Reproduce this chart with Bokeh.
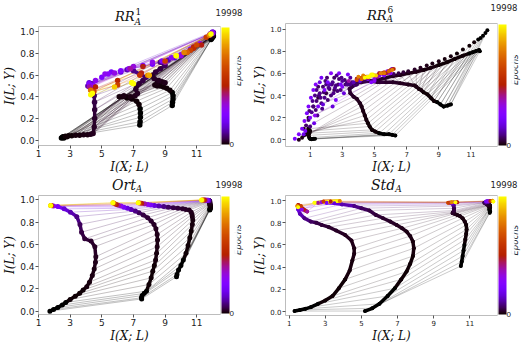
import math
from bokeh.plotting import figure
from bokeh.models import (ColumnDataSource, LinearColorMapper, ColorBar, Div, LinearAxis,
                          FixedTicker, Range1d, PrintfTickFormatter)
from bokeh.layouts import row, column
from bokeh.embed import file_html
from bokeh.resources import INLINE

EPOCH_MAX = 19998
CBAR_TOP = "19998"
CBAR_LABEL = "Epochs"
X_TICKS = [1, 3, 5, 7, 9, 11]
Y_TICKS = [0.0, 0.2, 0.4, 0.6, 0.8, 1.0]
X_LABEL = "I(X; L)"
Y_LABEL = "I(L; Y)"

# epochs at which every layer was sampled (same for every panel)
EPOCHS = [0, 5, 10, 20, 30, 45, 60, 80, 100, 130, 160, 200, 250, 310, 380,
          460, 560, 700, 900, 1200, 1700, 2400, 3300, 4500, 6000, 7800, 9800,
          12500, 16000, 19998]

# ---------------- panel RR_A^1 ----------------
RR1_L1_X = [11.9, 11.95, 12.0, 12.05, 12.05, 12.0, 11.95, 11.9, 11.95, 12.0, 12.02, 12.0, 11.98, 12.0, 12.02,
            12.0, 12.03, 12.05, 12.02, 12.0, 12.05, 11.95, 12.0, 11.9, 12.0, 11.85, 11.3, 11.6, 11.8, 11.9]
RR1_L1_Y = [0.93, 0.94, 0.95, 0.96, 0.97, 0.96, 0.955, 0.95, 0.96, 0.965, 0.97, 0.97, 0.975, 0.98, 0.98,
            0.985, 0.985, 0.99, 0.99, 0.99, 0.995, 0.99, 1.0, 0.985, 0.99, 0.98, 0.88, 0.95, 0.97, 0.98]
RR1_L2_X = [9.45, 9.47, 9.5, 9.5, 9.45, 9.3, 9.1, 8.9, 8.7, 8.5, 8.35, 8.5, 8.8, 9.0, 8.6,
            8.3, 8.2, 8.4, 8.7, 9.0, 8.7, 9.2, 9.6, 8.2, 10.0, 9.0, 10.8, 10.6, 10.2, 9.7]
RR1_L2_Y = [0.32, 0.35, 0.38, 0.41, 0.44, 0.46, 0.48, 0.49, 0.5, 0.5, 0.51, 0.53, 0.54, 0.53, 0.55,
            0.57, 0.6, 0.63, 0.66, 0.69, 0.72, 0.74, 0.76, 0.7, 0.78, 0.72, 0.86, 0.83, 0.81, 0.78]
RR1_L3_X = [7.4, 7.42, 7.44, 7.44, 7.42, 7.35, 7.2, 6.9, 6.6, 6.3, 6.1, 6.4, 6.8, 7.1, 7.25,
            7.15, 7.2, 7.35, 7.6, 7.8, 7.0, 6.6, 6.2, 5.6, 5.2, 6.8, 7.5, 6.0, 7.9, 6.9]
RR1_L3_Y = [0.14, 0.17, 0.21, 0.25, 0.29, 0.33, 0.36, 0.38, 0.39, 0.4, 0.4, 0.41, 0.4, 0.41, 0.43,
            0.47, 0.5, 0.52, 0.55, 0.58, 0.64, 0.65, 0.63, 0.63, 0.61, 0.66, 0.62, 0.51, 0.6, 0.53]
RR1_L4_X = [2.45, 2.5, 2.55, 2.6, 2.65, 2.7, 2.8, 2.9, 3.1, 3.35, 3.6, 3.85, 4.1, 4.3, 4.45,
            4.52, 4.55, 4.55, 4.54, 4.52, 4.35, 4.12, 4.2, 4.42, 4.5, 4.22, 4.32, 4.5, 4.4, 4.3]
RR1_L4_Y = [0.02, 0.025, 0.03, 0.02, 0.03, 0.035, 0.03, 0.04, 0.04, 0.045, 0.045, 0.05, 0.05, 0.055, 0.06,
            0.12, 0.2, 0.28, 0.35, 0.41, 0.52, 0.5, 0.53, 0.51, 0.5, 0.49, 0.46, 0.45, 0.44, 0.42]
# further late-epoch observations along the upper band
RR1_LATE_X = [4.2, 4.6, 5.0, 5.4, 5.8, 6.2, 6.7, 7.0, 7.6, 8.2, 8.8, 9.4, 10.0, 10.6, 11.2, 11.8, 12.0,
              6.0, 7.4, 7.6, 9.0, 10.4, 10.8, 11.0, 4.6, 4.3,
              4.4, 5.8, 6.9, 8.0, 9.7, 7.0]
RR1_LATE_Y = [0.52, 0.55, 0.58, 0.61, 0.62, 0.64, 0.66, 0.68, 0.69, 0.72, 0.73, 0.76, 0.79, 0.84, 0.89, 0.97, 0.99,
              0.55, 0.6, 0.68, 0.73, 0.81, 0.85, 0.88, 0.49, 0.46,
              0.43, 0.49, 0.53, 0.6, 0.78, 0.52]
RR1_LATE_E = [5200, 6100, 4800, 5600, 6400, 5000, 5900, 6700, 5300, 6200, 4900, 5700, 6500, 5100, 6000, 5400, 6300,
              10500, 11500, 9800, 12500, 14500, 11000, 13000, 10200, 15500,
              19998, 18500, 19500, 17500, 19000, 19998]

# ---------------- panel RR_A^6 ----------------
RR6_L1_X = [12.02, 11.9, 11.75, 11.6, 11.45, 11.2, 10.9, 10.5, 10.13, 9.75, 9.37, 9.0, 8.6, 8.25, 7.86,
            7.5, 7.1, 6.8, 6.5, 6.2, 5.9, 5.5, 6.1, 5.3, 5.0, 5.8, 4.6, 4.2, 5.4, 4.7]
RR6_L1_Y = [0.99, 0.965, 0.94, 0.92, 0.905, 0.88, 0.85, 0.815, 0.78, 0.755, 0.73, 0.71, 0.69, 0.67, 0.65,
            0.635, 0.62, 0.61, 0.6, 0.595, 0.62, 0.6, 0.64, 0.58, 0.57, 0.6, 0.56, 0.55, 0.6, 0.57]
RR6_L2_X = [11.55, 11.5, 11.3, 11.1, 10.9, 10.5, 10.0, 9.5, 9.0, 8.5, 8.05, 7.6, 7.1, 6.6, 6.15,
            5.7, 5.2, 4.7, 4.2, 3.8, 3.5, 4.0, 4.6, 5.3, 5.8, 6.1, 6.0, 5.6, 4.5, 4.9]
RR6_L2_Y = [0.8, 0.81, 0.8, 0.79, 0.78, 0.76, 0.73, 0.7, 0.675, 0.65, 0.63, 0.615, 0.6, 0.585, 0.575,
            0.56, 0.54, 0.53, 0.52, 0.51, 0.5, 0.55, 0.57, 0.6, 0.62, 0.64, 0.63, 0.61, 0.57, 0.58]
RR6_L3_X = [9.75, 9.55, 9.3, 9.1, 8.9, 8.7, 8.5, 8.3, 8.05, 7.9, 7.76, 7.6, 7.5, 7.1, 6.6,
            6.15, 5.7, 5.2, 4.7, 4.2, 3.9, 4.4, 5.0, 5.6, 6.0, 5.2, 5.9, 5.5, 4.3, 4.8]
RR6_L3_Y = [0.32, 0.31, 0.3, 0.32, 0.34, 0.35, 0.38, 0.41, 0.43, 0.45, 0.46, 0.48, 0.49, 0.5, 0.51,
            0.52, 0.52, 0.52, 0.53, 0.54, 0.55, 0.56, 0.55, 0.58, 0.6, 0.57, 0.62, 0.6, 0.58, 0.59]
RR6_L4_X = [6.3, 6.1, 5.9, 5.6, 5.3, 5.05, 4.85, 4.7, 4.6, 4.5, 4.4, 4.3, 4.2, 4.1, 3.9,
            3.7, 3.5, 3.45, 3.6, 3.9, 3.3, 3.7, 4.1, 4.6, 5.0, 4.3, 5.7, 4.4, 5.0, 4.6]
RR6_L4_Y = [0.04, 0.045, 0.05, 0.05, 0.06, 0.075, 0.09, 0.12, 0.15, 0.18, 0.22, 0.26, 0.3, 0.33, 0.37,
            0.39, 0.42, 0.46, 0.48, 0.5, 0.5, 0.52, 0.53, 0.55, 0.54, 0.56, 0.6, 0.57, 0.58, 0.57]
RR6_L5_X = [1.3, 1.2, 1.1, 1.0, 0.95, 0.9, 0.95, 1.0, 0.9, 0.8, 0.75, 0.6, 0.5, 0.3, 0.6,
            0.9, 1.2, 1.5, 2.0, 2.5, 1.4, 2.2, 1.8, 2.9, 1.3, 3.4, 3.9, 4.2, 4.0, 4.4]
RR6_L5_Y = [0.01, 0.01, 0.005, 0.01, 0.02, 0.04, 0.06, 0.08, 0.1, 0.07, 0.05, 0.04, 0.02, 0.0, 0.1,
            0.2, 0.3, 0.38, 0.42, 0.45, 0.45, 0.5, 0.32, 0.5, 0.22, 0.53, 0.55, 0.56, 0.57, 0.56]
RR6_CLOUD_X = [0.05, 0.3, 0.5, 0.65, 0.8, 0.9, 1.05, 1.2, 1.35, 1.7, 2.3, 2.8, 3.35, 1.9, 2.6, 0.7, 1.0, 1.5, 2.1, 3.0,
               1.2, 1.4, 1.6, 1.8, 2.0, 2.2, 2.4, 2.6, 2.8, 3.0, 3.2, 1.3, 1.5, 1.9, 2.3, 2.7, 1.1, 0.9, 1.7, 2.5,
               3.5, 1.0, 2.05, 1.45, 0.75, 1.6, 2.4, 1.25, 3.1, 0.6,
               1.35, 1.65, 1.85, 2.15, 2.35, 2.55, 2.75, 2.95, 3.15, 1.55, 1.75, 2.1, 2.9, 3.3, 1.15, 0.95, 2.45,
               1.95, 2.65, 3.6]
RR6_CLOUD_Y = [0.01, 0.05, 0.1, 0.17, 0.24, 0.3, 0.38, 0.45, 0.5, 0.56, 0.6, 0.6, 0.59, 0.45, 0.36, 0.08, 0.2, 0.3, 0.52, 0.48,
               0.3, 0.35, 0.42, 0.48, 0.5, 0.46, 0.52, 0.49, 0.55, 0.53, 0.5, 0.4, 0.48, 0.38, 0.4, 0.44, 0.25, 0.18, 0.33, 0.56,
               0.56, 0.12, 0.56, 0.22, 0.13, 0.52, 0.3, 0.15, 0.42, 0.05,
               0.27, 0.38, 0.43, 0.47, 0.5, 0.47, 0.5, 0.56, 0.54, 0.4, 0.28, 0.36, 0.45, 0.52, 0.35, 0.26, 0.42,
               0.53, 0.58, 0.52]
RR6_CLOUD_E = [4800, 5100, 4600, 5300, 4900, 5000, 4700, 5200, 5400, 4500, 5600, 5100, 4800, 5300, 4700, 5000, 4900, 5200, 4600, 5500,
               1600, 1500, 1800, 1400, 1700, 1300, 1900, 1600, 1500, 2000, 1400, 1700, 1300, 1800, 1600, 1500, 1900, 1400, 1700, 1300,
               2000, 1600, 1500, 1800, 1400, 3500, 3300, 3700, 3400, 3600,
               1500, 1700, 1400, 1800, 1600, 1900, 1500, 1700, 1400, 1600, 1800, 1500, 1700, 1600, 1900, 1400, 1800,
               1500, 1700, 1600]
RR6_LATE_X = [4.6, 4.9, 5.1, 5.6, 5.9, 6.1, 4.2, 3.9, 5.3, 6.2, 4.8, 5.0]
RR6_LATE_Y = [0.57, 0.59, 0.58, 0.6, 0.62, 0.63, 0.55, 0.54, 0.6, 0.64, 0.52, 0.53]
RR6_LATE_E = [19998, 19500, 18800, 15500, 14500, 16000, 15000, 13500, 11000, 10500, 5200, 5600]

# ---------------- panel Ort_A ----------------
ORT_A_X = [1.72, 1.95, 2.22, 2.5, 2.72, 3.0, 3.32, 3.6, 3.82, 4.05, 4.22, 4.4, 4.52, 4.6, 4.62,
           4.56, 4.32, 3.92, 3.72, 3.62, 3.42, 3.02, 2.62, 2.22, 1.95, 1.85, 1.8, 1.78, 1.78, 1.76]
ORT_A_Y = [0.0, 0.015, 0.034, 0.055, 0.078, 0.105, 0.135, 0.16, 0.19, 0.22, 0.26, 0.32, 0.38, 0.44, 0.49,
           0.58, 0.63, 0.65, 0.71, 0.78, 0.85, 0.89, 0.92, 0.94, 0.945, 0.948, 0.95, 0.95, 0.95, 0.95]
ORT_B_X = [7.52, 7.5, 7.55, 7.68, 7.82, 7.98, 8.12, 8.22, 8.32, 8.4, 8.46, 8.5, 8.52, 8.5, 8.42,
           8.3, 8.12, 7.9, 7.62, 7.35, 7.12, 6.85, 6.62, 6.4, 6.22, 6.05, 5.92, 5.8, 5.72, 5.7]
ORT_B_Y = [0.11, 0.12, 0.14, 0.16, 0.18, 0.24, 0.3, 0.36, 0.41, 0.46, 0.52, 0.58, 0.64, 0.69, 0.74,
           0.78, 0.81, 0.84, 0.865, 0.885, 0.9, 0.915, 0.925, 0.935, 0.945, 0.952, 0.96, 0.968, 0.975, 0.975]
ORT_C_X = [9.72, 9.75, 9.85, 10.0, 10.15, 10.32, 10.45, 10.56, 10.65, 10.72, 10.75, 10.72, 10.7, 10.65, 10.52,
           10.3, 10.12, 9.8, 9.52, 9.2, 8.92, 8.6, 8.32, 8.1, 7.92, 7.7, 7.52, 7.4, 7.32, 7.3]
ORT_C_Y = [0.31, 0.33, 0.37, 0.41, 0.46, 0.52, 0.59, 0.66, 0.72, 0.78, 0.82, 0.85, 0.87, 0.89, 0.91,
           0.915, 0.92, 0.925, 0.93, 0.935, 0.94, 0.945, 0.95, 0.955, 0.96, 0.965, 0.97, 0.973, 0.975, 0.975]
ORT_D_X = [11.82, 11.83, 11.84, 11.85, 11.86, 11.86, 11.86, 11.85, 11.85, 11.84, 11.84, 11.83, 11.83, 11.82, 11.82,
           11.82, 11.82, 11.8, 11.8, 11.78, 11.76, 11.74, 11.72, 11.68, 11.62, 11.55, 11.48, 11.4, 11.34, 11.3]
ORT_D_Y = [0.91, 0.915, 0.92, 0.925, 0.93, 0.935, 0.94, 0.945, 0.95, 0.955, 0.96, 0.965, 0.97, 0.975, 0.98,
           0.985, 0.99, 0.99, 0.992, 0.994, 0.995, 0.996, 0.997, 0.998, 0.998, 0.999, 1.0, 1.0, 1.0, 1.0]

# ---------------- panel Std_A ----------------
STD_A_X = [1.3, 1.6, 1.9, 2.2, 2.6, 3.0, 3.4, 3.75, 4.1, 4.35, 4.5, 4.6, 4.6, 4.45, 4.1,
           3.6, 3.2, 2.8, 2.5, 2.2, 1.85, 1.6, 1.5, 1.55, 1.7, 2.0, 1.5, 1.65, 1.45, 1.5]
STD_A_Y = [0.005, 0.015, 0.025, 0.04, 0.07, 0.1, 0.14, 0.21, 0.29, 0.37, 0.46, 0.52, 0.57, 0.64, 0.69,
           0.73, 0.76, 0.78, 0.8, 0.81, 0.84, 0.88, 0.92, 0.94, 0.92, 0.9, 0.96, 0.95, 0.95, 0.94]
STD_B_X = [5.2, 5.6, 6.0, 6.45, 6.85, 7.2, 7.5, 7.7, 7.85, 7.9, 7.85, 7.7, 7.5, 7.25, 6.95,
           6.6, 6.2, 5.8, 5.44, 5.0, 4.6, 3.92, 3.5, 3.07, 2.8, 2.6, 3.3, 2.9, 3.8, 2.4]
STD_B_Y = [0.005, 0.03, 0.07, 0.14, 0.21, 0.29, 0.36, 0.43, 0.5, 0.57, 0.63, 0.68, 0.72, 0.75, 0.78,
           0.81, 0.84, 0.87, 0.91, 0.93, 0.95, 0.965, 0.975, 0.98, 0.985, 0.98, 0.99, 0.99, 0.995, 0.98]
STD_C_X = [10.5, 10.55, 10.6, 10.65, 10.7, 10.75, 10.8, 10.82, 10.8, 10.72, 10.6, 10.45, 10.3, 10.15, 10.05,
           10.05, 10.1, 10.12, 10.12, 10.1, 10.1, 10.05, 10.1, 10.0, 10.2, 9.9, 10.3, 9.8, 10.0, 10.2]
STD_C_Y = [0.41, 0.45, 0.5, 0.55, 0.6, 0.65, 0.7, 0.74, 0.78, 0.81, 0.84, 0.86, 0.87, 0.88, 0.885,
           0.89, 0.9, 0.91, 0.93, 0.95, 0.96, 0.97, 0.98, 0.98, 0.985, 0.98, 0.985, 0.98, 0.985, 0.985]
STD_D_X = [12.1, 12.12, 12.1, 12.08, 12.1, 12.12, 12.1, 12.08, 12.1, 12.12, 12.1, 12.08, 12.1, 12.05, 12.0,
           11.95, 11.9, 11.85, 11.8, 11.85, 11.9, 11.95, 12.0, 11.9, 12.05, 12.1, 12.15, 12.2, 12.25, 12.3]
STD_D_Y = [0.89, 0.9, 0.91, 0.92, 0.93, 0.935, 0.94, 0.94, 0.945, 0.95, 0.95, 0.955, 0.96, 0.96, 0.96,
           0.965, 0.97, 0.975, 0.98, 0.98, 0.985, 0.99, 0.99, 0.99, 0.99, 0.995, 0.995, 0.995, 0.998, 0.99]


def gnuplot_palette(n=256):
    pal = []
    for i in range(n):
        t = i / (n - 1)
        r = math.sqrt(t)
        g = t ** 3
        b = min(1.0, max(0.0, math.sin(2 * math.pi * t)))
        pal.append("#%02x%02x%02x" % (int(round(r * 255)), int(round(g * 255)), int(round(b * 255))))
    return pal


PAL = gnuplot_palette()


def ecolor(e):
    return PAL[max(0, min(255, int(round(e / EPOCH_MAX * 255))))]


def make_panel(cfg):
    xr, yr = cfg["xr"], cfg["yr"]
    p = figure(width=cfg["w"], height=cfg["h"], x_range=Range1d(*xr), y_range=Range1d(*yr),
               output_backend="svg", toolbar_location=None,
               min_border_left=cfg["bl"], min_border_right=cfg["br"],
               min_border_top=0, min_border_bottom=cfg["bb"])
    p.background_fill_color = "white"
    p.border_fill_color = "white"
    p.outline_line_color = "#bdbdbd"
    p.grid.visible = False
    for ax in (p.xaxis[0], p.yaxis[0]):
        ax.axis_line_color = None
        ax.major_tick_line_color = "#555555"
        ax.major_tick_out = 3
        ax.major_tick_in = 0
        ax.minor_tick_line_color = None
        ax.major_label_text_font = "DejaVu Sans"
        ax.major_label_text_font_size = cfg["tick_fs"]
        ax.major_label_text_color = "#222222"
        ax.major_label_standoff = 1
        ax.axis_label_text_font = "DejaVu Serif"
        ax.axis_label_text_font_style = "italic"
        ax.axis_label_text_font_size = cfg["lab_fs"]
        ax.axis_label_text_color = "#111111"
        ax.axis_label_standoff = 0
    p.xaxis.ticker = FixedTicker(ticks=X_TICKS)
    p.yaxis.ticker = FixedTicker(ticks=Y_TICKS)
    p.yaxis.formatter = PrintfTickFormatter(format="%.1f")
    p.xaxis.axis_label = X_LABEL
    p.yaxis.axis_label = Y_LABEL

    layers = cfg["layers"]
    epochs = EPOCHS
    seq = [layers[i] for i in cfg["order"]]
    if cfg["closed"]:
        seq = seq + [seq[0]]
    lx, ly, lc = [], [], []
    for k, e in enumerate(epochs):
        for a, b in zip(seq[:-1], seq[1:]):
            lx.append([a[0][k], b[0][k]])
            ly.append([a[1][k], b[1][k]])
            lc.append(ecolor(e))
    p.multi_line("xs", "ys", line_color="c", line_alpha=cfg["link_alpha"], line_width=0.7,
                 source=ColumnDataSource(dict(xs=lx, ys=ly, c=lc)))
    tx, ty, tc = [], [], []
    for (xs, ys, until) in layers:
        for k in range(min(until, len(xs) - 1)):
            tx.append([xs[k], xs[k + 1]])
            ty.append([ys[k], ys[k + 1]])
            tc.append(ecolor(epochs[k + 1]))
    p.multi_line("xs", "ys", line_color="c", line_width=3.5, line_cap="round", line_join="round",
                 source=ColumnDataSource(dict(xs=tx, ys=ty, c=tc)))
    pts = []
    for (xs, ys, until) in layers:
        for k in range(len(xs)):
            pts.append((epochs[k], xs[k], ys[k]))
    for (ex, ey, ee) in cfg.get("extra", []):
        pts.append((ee, ex, ey))
    pts.sort(key=lambda t: t[0])
    p.scatter("x", "y", marker="circle", size=cfg["msize"], fill_color="c", line_color=None,
              source=ColumnDataSource(dict(x=[t[1] for t in pts], y=[t[2] for t in pts],
                                           c=[ecolor(t[0]) for t in pts])))

    mapper = LinearColorMapper(palette=PAL, low=0, high=EPOCH_MAX)
    cb = ColorBar(color_mapper=mapper, ticker=FixedTicker(ticks=[0]), width=8, padding=1, margin=0,
                  bar_line_color=None, border_line_color=None, major_tick_line_color=None,
                  minor_tick_line_color=None, major_tick_in=0, major_tick_out=0,
                  minor_tick_in=0, minor_tick_out=0, major_label_text_font_size="8px",
                  major_label_text_color="#222222", label_standoff=0)
    p.add_layout(cb, "right")
    ep = LinearAxis(axis_label=CBAR_LABEL, ticker=FixedTicker(ticks=[]), axis_line_color=None,
                    major_tick_line_color=None, minor_tick_line_color=None, major_tick_out=0,
                    major_tick_in=0, minor_tick_out=0, minor_tick_in=0,
                    major_label_text_font_size="1px", major_label_standoff=0, axis_label_standoff=0,
                    axis_label_text_font="DejaVu Sans", axis_label_text_font_size="8.5px",
                    axis_label_text_color="#222222")
    if "axis_label_orientation" in LinearAxis.properties():
        # numeric orientation is applied negated: +pi/2 reads bottom-to-top
        ep.axis_label_orientation = math.pi / 2
    p.add_layout(ep, "right")
    return p


def head_div(width, height, main, sub, sup, main_left, main_top, main_fs, sub_top, sup_top,
             cb_center, cb_top):
    sup_html = ""
    if sup:
        sup_html = ('<span style="position:absolute;left:100%%;top:%dpx;font-size:9px;line-height:9px;'
                    'font-style:normal;margin-left:1px;">%s</span>' % (sup_top, sup))
    html = (
        '<div style="position:relative;width:%dpx;height:%dpx;overflow:hidden;background:white;">'
        '<span style="position:absolute;left:%dpx;top:%dpx;font-family:\'DejaVu Serif\';font-style:italic;'
        'font-size:%dpx;line-height:%dpx;white-space:nowrap;color:#111111;">%s'
        '<span style="position:absolute;left:100%%;top:%dpx;font-size:9px;line-height:9px;">%s</span>%s</span>'
        '<span style="position:absolute;left:%dpx;transform:translateX(-50%%);top:%dpx;'
        'font-family:\'DejaVu Sans\';font-size:8.5px;line-height:8.5px;white-space:nowrap;'
        'color:#222222;">%s</span>'
        '</div>'
    ) % (width, height, main_left, main_top, main_fs, main_fs, main, sub_top, sub, sup_html,
         cb_center, cb_top, CBAR_TOP)
    return Div(text=html, width=width, height=height, margin=0)


p1 = make_panel(dict(
    w=250, h=150, bl=38, br=22, bb=26, xr=(1.0, 12.5), yr=(-0.05, 1.05),
    tick_fs="9px", lab_fs="12px", msize=5.5, link_alpha=0.35,
    layers=[(RR1_L1_X, RR1_L1_Y, 20), (RR1_L2_X, RR1_L2_Y, 20),
            (RR1_L3_X, RR1_L3_Y, 20), (RR1_L4_X, RR1_L4_Y, 20)],
    order=[0, 1, 2, 3], closed=True,
    extra=list(zip(RR1_LATE_X, RR1_LATE_Y, RR1_LATE_E))))

p2 = make_panel(dict(
    w=277, h=153, bl=29, br=20, bb=26, xr=(-0.53, 12.65), yr=(-0.06, 1.05),
    tick_fs="7px", lab_fs="12px", msize=4, link_alpha=0.3,
    layers=[(RR6_L1_X, RR6_L1_Y, 0), (RR6_L2_X, RR6_L2_Y, 20), (RR6_L3_X, RR6_L3_Y, 20),
            (RR6_L4_X, RR6_L4_Y, 20), (RR6_L5_X, RR6_L5_Y, 11)],
    order=[0, 2, 1, 3, 4], closed=False,
    extra=list(zip(RR6_CLOUD_X, RR6_CLOUD_Y, RR6_CLOUD_E)) + list(zip(RR6_LATE_X, RR6_LATE_Y, RR6_LATE_E))))

p3 = make_panel(dict(
    w=250, h=150, bl=38, br=22, bb=26, xr=(1.0, 12.5), yr=(-0.03, 1.04),
    tick_fs="9px", lab_fs="12px", msize=5, link_alpha=0.35,
    layers=[(ORT_A_X, ORT_A_Y, 29), (ORT_B_X, ORT_B_Y, 29), (ORT_C_X, ORT_C_Y, 29), (ORT_D_X, ORT_D_Y, 29)],
    order=[3, 2, 1, 0], closed=False))

p4 = make_panel(dict(
    w=277, h=150, bl=29, br=20, bb=26, xr=(0.8, 12.53), yr=(-0.035, 1.045),
    tick_fs="7px", lab_fs="12px", msize=4, link_alpha=0.3,
    layers=[(STD_A_X, STD_A_Y, 29), (STD_B_X, STD_B_Y, 29), (STD_C_X, STD_C_Y, 29), (STD_D_X, STD_D_Y, 29)],
    order=[0, 1, 2, 3], closed=False))

d1 = head_div(250, 26, "RR", "A", "1", 115, 10, 13, 8, -2, 229, 9)
d2 = head_div(277, 23, "RR", "A", "6", 117, 9, 13, 6, -3, 254, 4)
d3 = head_div(250, 19, "Ort", "A", None, 112, 2, 14, 7, 0, 229, 5)
d4 = head_div(277, 19, "Std", "A", None, 121, 2, 14, 7, 0, 254, 5)

layout = column(row(column(d1, p1), column(d2, p2)), row(column(d3, p3), column(d4, p4)))
open("out.html", "w").write(file_html(layout, INLINE))
